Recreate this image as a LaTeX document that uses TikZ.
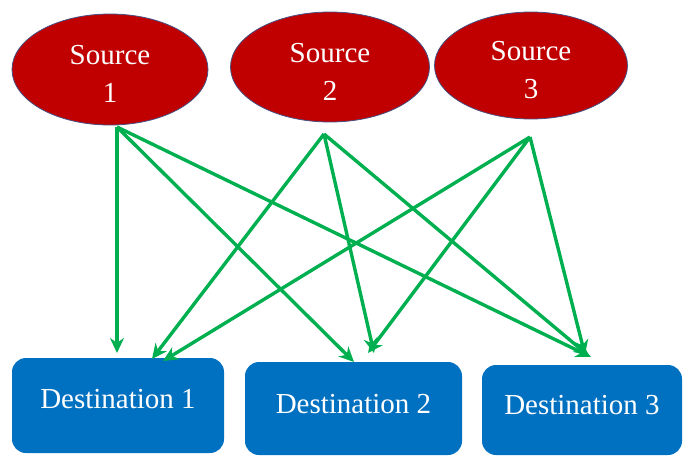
\documentclass[tikz,border=0pt]{standalone}
\usepackage{fontspec}
\setmainfont{Liberation Serif}
\usetikzlibrary{shapes.geometric,arrows.meta}
\definecolor{srcred}{RGB}{192,0,0}
\definecolor{srcedge}{RGB}{70,80,130}
\definecolor{dstblue}{RGB}{0,112,192}
\definecolor{flowgreen}{RGB}{0,176,80}
\tikzset{
  srcnode/.style={ellipse, fill=srcred, draw=srcedge, line width=0.8pt, inner sep=0pt},
  dstnode/.style={rectangle, rounded corners=14pt, fill=dstblue, inner sep=0pt},
  srctext/.style={text=white, align=center, font=\fontsize{29}{38}\selectfont},
  dsttext/.style={text=white, font=\fontsize{29}{32}\selectfont},
  flow/.style={draw=flowgreen, line width=3.4pt, -{Stealth[length=15pt,width=14pt]}}
}
\begin{document}
\begin{tikzpicture}[x=1pt,y=-1pt]
\useasboundingbox (0,0) rectangle (686,459);
% sources
\node[srcnode, minimum width=196pt, minimum height=111pt] (s1) at (110,69.5) {};
\node[srcnode, minimum width=199pt, minimum height=110pt] (s2) at (330,67) {};
\node[srcnode, minimum width=193pt, minimum height=107pt] (s3) at (531,65.5) {};
\node[srctext] (s1t) at (110,74) {Source\\1};
\node[srctext] (s2t) at (330,72) {Source\\2};
\node[srctext] (s3t) at (531,70) {Source\\3};
% destinations
\node[dstnode, minimum width=212pt, minimum height=95pt] (d1) at (118,405.5) {};
\node[dstnode, minimum width=217pt, minimum height=93pt] (d2) at (353.5,408.5) {};
\node[dstnode, minimum width=200pt, minimum height=90pt] (d3) at (582,410) {};
\node[dsttext] (d1t) at (118,399) {Destination 1};
\node[dsttext] (d2t) at (353.5,404) {Destination 2};
\node[dsttext] (d3t) at (582,405) {Destination 3};
% start points below each source
\coordinate (o1) at (117,127);
\coordinate (o2) at (324,134);
\coordinate (o3) at (530,137);
% arrow tips above each destination
\coordinate (t11) at (117,353);
\coordinate (t21) at (152,359);
\coordinate (t31) at (163,361);
\coordinate (t12) at (354,362);
\coordinate (t22) at (374,353);
\coordinate (t32) at (368,353);
\coordinate (t13) at (591,357);
\coordinate (t23) at (589,356);
\coordinate (t33) at (585,355);
% flows
\draw[flow] (o1) -- (t11);
\draw[flow] (o1) -- (t12);
\draw[flow] (o1) -- (t13);
\draw[flow] (o2) -- (t21);
\draw[flow] (o2) -- (t22);
\draw[flow] (o2) -- (t23);
\draw[flow] (o3) -- (t31);
\draw[flow] (o3) -- (t32);
\draw[flow] (o3) -- (t33);
\end{tikzpicture}
\end{document}
